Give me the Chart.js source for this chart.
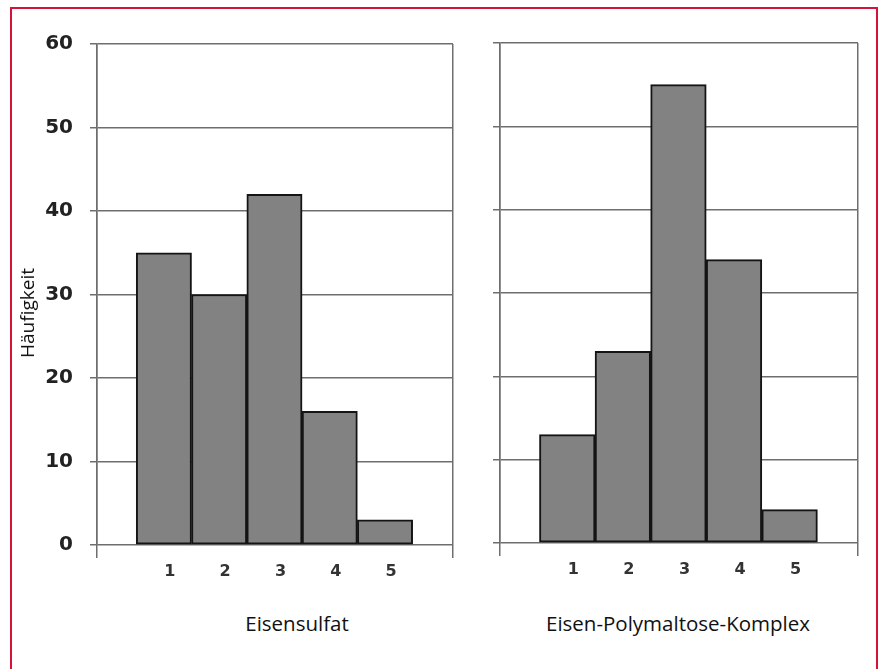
<!DOCTYPE html>
<html>
<head>
<meta charset="utf-8">
<script src="https://cdn.jsdelivr.net/npm/chart.js@4"></script>
<style>
  body { margin: 0; background: #fff; }
  #wrap { position: relative; width: 882px; height: 669px; overflow: hidden; }
  #frame { position: absolute; left: 10px; top: 7px; width: 864px; height: 700px; border: 2.5px solid #d2143a; }
  canvas { position: absolute; top: 0; }
  .lbl { position: absolute; font-family: "Open Sans", sans-serif; font-size: 20.5px; color: #111; white-space: nowrap; transform: translate(-50%, -50%); }
</style>
</head>
<body>
<div id="wrap">
  <div id="frame"></div>
  <canvas id="left" width="470" height="600" style="left:0"></canvas>
  <canvas id="right" width="412" height="600" style="left:470px"></canvas>
  <div class="lbl" style="left:27px; top:313px; font-size:19px; transform: translate(-50%, -50%) rotate(-90deg);">Häufigkeit</div>
  <div class="lbl" style="left:297px; top:623px;">Eisensulfat</div>
  <div class="lbl" style="left:678px; top:623px;">Eisen-Polymaltose-Komplex</div>
</div>
<script>
// ── Data ──────────────────────────────────────
const classes = [1, 2, 3, 4, 5];
const eisensulfat = [35, 30, 42, 16, 3];
const polymaltose = [13, 23, 55, 34, 4];
const yTicks = [0, 10, 20, 30, 40, 50, 60];

// ── Style ─────────────────────────────────────
const LINE = '#6e6e6e';
const X_MIN = -0.21, X_MAX = 6.23;

function makeChart(id, values, o) {
    return new Chart(document.getElementById(id), {
        type: 'bar',
        data: {
            datasets: [{
                data: classes.map((c, i) => ({ x: c, y: values[i] })),
                backgroundColor: '#828282',
                borderColor: '#141414',
                borderWidth: 2,
                borderSkipped: false,
                barPercentage: 1,
                categoryPercentage: 1
            }]
        },
        options: {
            responsive: false,
            animation: false,
            devicePixelRatio: 1,
            layout: { padding: o.padding },
            plugins: { legend: { display: false }, tooltip: { enabled: false } },
            scales: {
                x: {
                    type: 'linear',
                    min: X_MIN,
                    max: X_MAX,
                    offset: false,
                    afterBuildTicks: s => { s.ticks = [X_MIN, ...classes, X_MAX].map(v => ({ value: v })); },
                    afterFit: s => { s.height = o.xHeight; },
                    grid: {
                        offset: false,
                        // only the frame lines at both ends of the axis
                        color: c => (c.tick && (c.tick.value === X_MIN || c.tick.value === X_MAX)) ? LINE : 'rgba(0,0,0,0)',
                        lineWidth: 1.5,
                        tickLength: 13
                    },
                    border: { display: false },
                    ticks: {
                        autoSkip: false,
                        maxRotation: 0,
                        padding: 4,
                        labelOffset: 6,
                        color: '#333',
                        font: { family: 'DejaVu Sans', weight: 'bold', size: 16 },
                        callback: v => classes.includes(v) ? String(v) : ''
                    }
                },
                y: {
                    min: 0,
                    max: 60,
                    afterBuildTicks: s => { s.ticks = yTicks.map(v => ({ value: v })); },
                    afterFit: s => { s.width = o.yWidth; },
                    grid: { color: LINE, lineWidth: 1.5, tickLength: 7 },
                    border: { color: LINE, width: 1.5 },
                    ticks: {
                        display: o.showTicks,
                        padding: 17,
                        color: '#222',
                        font: { family: 'DejaVu Sans', weight: 'bold', size: 20 }
                    }
                }
            }
        }
    });
}

makeChart('left', eisensulfat, { padding: { left: 0, right: 17, top: 44, bottom: 0 }, xHeight: 55, yWidth: 97, showTicks: true });
makeChart('right', polymaltose, { padding: { left: 0, right: 24, top: 43, bottom: 0 }, xHeight: 57, yWidth: 30, showTicks: false });
</script>
</body>
</html>
